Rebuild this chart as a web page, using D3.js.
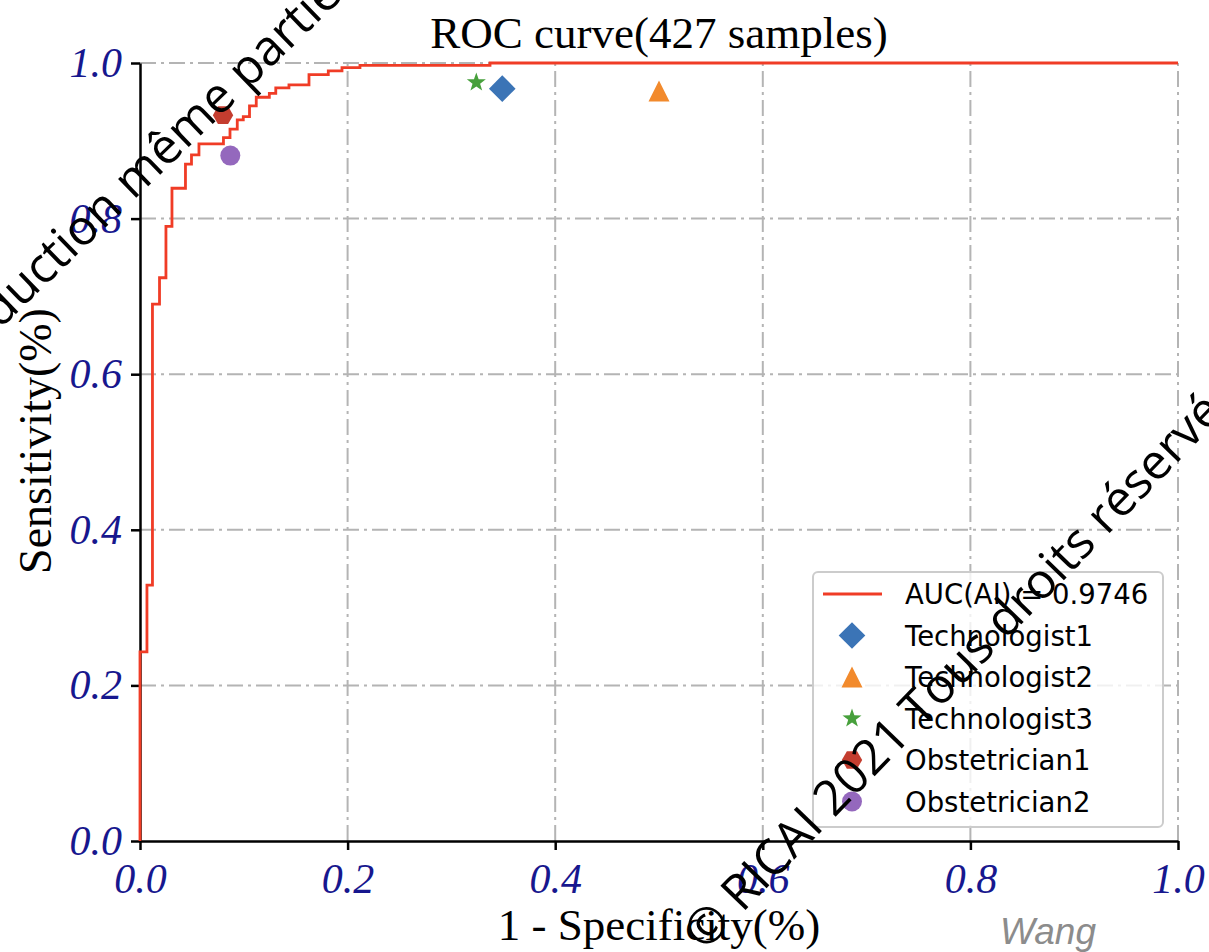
<!DOCTYPE html>
<html>
<head>
<meta charset="utf-8">
<script src="https://cdn.jsdelivr.net/npm/d3@7"></script>
<style>
  body { margin: 0; background: #fff; }
  svg { display: block; }
  .legend-text { font-family: "DejaVu Sans", Verdana, sans-serif; }
</style>
</head>
<body>
<svg id="chart" width="1209" height="952"></svg>
<script>
// ROC curve of the model: false positive rate / true positive rate at each step corner
const fpr = [0, 0, 0.0067, 0.0120, 0.0188, 0.0250, 0.0308, 0.0438, 0.0496, 0.0568,
             0.0804, 0.0867, 0.0937, 0.0995, 0.1055, 0.1120, 0.1246, 0.1308, 0.1435,
             0.1628, 0.1814, 0.1946, 0.2119, 0.3372, 1.0];
const tpr = [0, 0.243, 0.329, 0.690, 0.724, 0.790, 0.839, 0.870, 0.882, 0.896,
             0.904, 0.915, 0.927, 0.931, 0.945, 0.956, 0.961, 0.968, 0.972,
             0.985, 0.990, 0.994, 0.997, 1.0, 1.0];
const aucLabel = "AUC(AI) = 0.9746";

// Human readers: operating points (1 - specificity, sensitivity)
const readers   = ["Technologist1", "Technologist2", "Technologist3", "Obstetrician1", "Obstetrician2"];
const readerFpr = [0.349, 0.500, 0.324, 0.080, 0.087];
const readerTpr = [0.967, 0.964, 0.975, 0.933, 0.881];
const readerShapes = ["diamond", "triangle", "star", "hexagon", "circle"];
const readerColors = ["#3b74b6", "#f28a2c", "#47a03c", "#c43d2f", "#9468bd"];

const tickValues = [0.0, 0.2, 0.4, 0.6, 0.8, 1.0];
const titleText = "ROC curve(427 samples)";
const xLabel = "1 - Specificity(%)";
const yLabel = "Sensitivity(%)";

const svg = d3.select("#chart");
const x = d3.scaleLinear().domain([0, 1]).range([140, 1178]);
const y = d3.scaleLinear().domain([0, 1]).range([841, 63]);

const serif = "'Liberation Serif', 'Times New Roman', serif";
const tickColor = "#17178e";

// grid
const grid = svg.append("g").attr("stroke", "#b4b4b4").attr("stroke-width", 2)
  .attr("stroke-dasharray", "16,5,3,5").attr("fill", "none");
grid.selectAll(".gx").data(tickValues.filter(d => d > 0)).join("line")
  .attr("x1", d => x(d)).attr("x2", d => x(d)).attr("y1", y(0)).attr("y2", y(1));
grid.selectAll(".gy").data(tickValues.filter(d => d > 0)).join("line")
  .attr("x1", x(0)).attr("x2", x(1)).attr("y1", d => y(d)).attr("y2", d => y(d));

// axes (left and bottom spines only)
const fmt = d3.format(".1f");
const yAxis = svg.append("g").attr("transform", `translate(${x(0)},0)`)
  .call(d3.axisLeft(y).tickValues(tickValues).tickFormat(fmt).tickSize(9).tickSizeOuter(0).tickPadding(9));
const xAxis = svg.append("g").attr("transform", `translate(0,${y(0)})`)
  .call(d3.axisBottom(x).tickValues(tickValues).tickFormat(fmt).tickSize(9).tickSizeOuter(0).tickPadding(13));
[yAxis, xAxis].forEach(g => {
  g.select(".domain").attr("stroke", "#000").attr("stroke-width", 2.5);
  g.selectAll(".tick line").attr("stroke", "#000").attr("stroke-width", 2.5);
  g.selectAll(".tick text").attr("fill", tickColor).attr("font-family", serif)
    .attr("font-style", "italic").attr("font-size", 42);
});

// ROC curve
const line = d3.line().x((d, i) => x(fpr[i])).y((d, i) => y(tpr[i])).curve(d3.curveStepAfter);
svg.append("path").datum(fpr).attr("d", line).attr("fill", "none")
  .attr("stroke", "#f03c26").attr("stroke-width", 2.8).attr("stroke-linejoin", "miter");

// marker shapes
function markerPath(shape) {
  const p = d3.path();
  if (shape === "diamond") {
    const r = 13.3;
    p.moveTo(0, -r); p.lineTo(r, 0); p.lineTo(0, r); p.lineTo(-r, 0); p.closePath();
  } else if (shape === "triangle") {
    const r = 10.5;
    p.moveTo(0, -r); p.lineTo(r, r); p.lineTo(-r, r); p.closePath();
  } else if (shape === "star") {
    const R = 10, ri = R * 0.40;
    for (let k = 0; k < 10; k++) {
      const a = -Math.PI / 2 + k * Math.PI / 5, rr = k % 2 ? ri : R;
      k ? p.lineTo(rr * Math.cos(a), rr * Math.sin(a)) : p.moveTo(rr * Math.cos(a), rr * Math.sin(a));
    }
    p.closePath();
  } else if (shape === "hexagon") {
    const r = 10.2;
    for (let k = 0; k < 6; k++) {
      const a = k * Math.PI / 3;
      k ? p.lineTo(r * Math.cos(a), r * Math.sin(a)) : p.moveTo(r * Math.cos(a), r * Math.sin(a));
    }
    p.closePath();
  } else {
    p.arc(0, 0, 10, 0, 2 * Math.PI);
  }
  return p.toString();
}

svg.append("g").selectAll("path").data(readers).join("path")
  .attr("d", (d, i) => markerPath(readerShapes[i]))
  .attr("transform", (d, i) => `translate(${x(readerFpr[i])},${y(readerTpr[i])})`)
  .attr("fill", (d, i) => readerColors[i]);

// legend
const lg = svg.append("g");
lg.append("rect").attr("x", 813).attr("y", 572).attr("width", 350).attr("height", 255)
  .attr("rx", 5).attr("fill", "#fff").attr("fill-opacity", 0.8)
  .attr("stroke", "#cccccc").attr("stroke-width", 2);
const rowY = i => 594 + i * 41.5;
lg.append("line").attr("x1", 823).attr("x2", 882).attr("y1", rowY(0)).attr("y2", rowY(0))
  .attr("stroke", "#f03c26").attr("stroke-width", 2.8);
lg.append("text").attr("class", "legend-text").attr("x", 905).attr("y", rowY(0) + 10).text(aucLabel);
readers.forEach((name, i) => {
  lg.append("path").attr("d", markerPath(readerShapes[i]))
    .attr("transform", `translate(852,${rowY(i + 1)})`).attr("fill", readerColors[i]);
  lg.append("text").attr("class", "legend-text").attr("x", 905).attr("y", rowY(i + 1) + 10).text(name);
});
lg.selectAll("text").style("font-size", "27.5px").attr("fill", "#000");

// title and axis labels
svg.append("text").attr("x", 659).attr("y", 48).attr("text-anchor", "middle")
  .attr("font-family", serif).attr("font-size", 45).attr("fill", "#000").text(titleText);
svg.append("text").attr("x", 659).attr("y", 940).attr("text-anchor", "middle")
  .attr("font-family", serif).attr("font-size", 45).attr("fill", "#000").text(xLabel);
svg.append("text").attr("transform", "translate(51,441) rotate(-90)").attr("text-anchor", "middle")
  .attr("font-family", serif).attr("font-size", 46).attr("fill", "#000").text(yLabel);

// author tag
svg.append("text").attr("x", 1000).attr("y", 944).attr("font-family", "'Liberation Sans', Arial, sans-serif")
  .attr("font-style", "italic").attr("font-size", 37).attr("fill", "#8c8c8c").text("Wang");

// copyright overlays
const wm = svg.append("g").attr("font-family", "'Open Sans', sans-serif").attr("fill", "#000");
wm.append("text").attr("transform", "translate(-99,425) rotate(-44)")
  .attr("font-size", 49).text("Reproduction même partielle interdite");
wm.append("text").attr("transform", "translate(705,952) rotate(-46)")
  .attr("font-size", 49).text("© RICAI 2021 Tous droits réservés");
</script>
</body>
</html>
